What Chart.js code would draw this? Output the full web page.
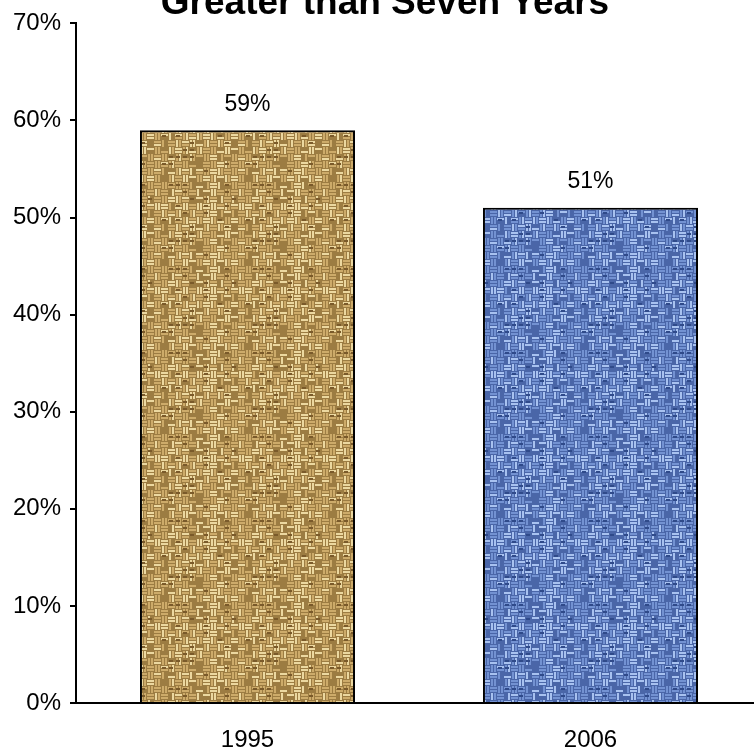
<!DOCTYPE html>
<html>
<head>
<meta charset="utf-8">
<script src="https://cdn.jsdelivr.net/npm/chart.js@4"></script>
<style>
  html, body { margin: 0; padding: 0; background: #fff; overflow: hidden; }
  canvas { display: block; }
</style>
</head>
<body>
<canvas id="tenure" width="762" height="749"></canvas>
<script>
const categories = ['1995', '2006'];
const shares = [59, 51];
const yMax = 70;
const yStep = 10;
const chartTitle = 'Greater than Seven Years';

// woven fill, drawn cell by cell with a small fixed hash for the fibre shading
function hash(a, b) {
  let h = (a * 374761393 + b * 668265263) | 0;
  h = (h ^ (h >>> 13)) * 1274126177;
  return ((h ^ (h >>> 16)) >>> 0) / 4294967295;
}

function weave(base, light, dark, shade) {
  const size = 84, cell = 7;
  const c = document.createElement('canvas');
  c.width = size; c.height = size;
  const g = c.getContext('2d');
  g.fillStyle = shade;
  g.fillRect(0, 0, size, size);
  for (let i = 0; i < size / cell; i++) {
    for (let j = 0; j < size / cell; j++) {
      const x = i * cell, y = j * cell;
      const horiz = (i + j) % 2 === 0;
      for (let k = 0; k < 2; k++) {
        const t = hash(i * 7 + k, j * 13 + k);
        g.fillStyle = t > 0.6 ? light : (t < 0.15 ? shade : base);
        if (horiz) g.fillRect(x, y + k * 3 + 1, cell, 2);
        else g.fillRect(x + k * 3 + 1, y, 2, cell);
      }
      if (hash(j + 3, i + 5) > 0.75) {
        g.fillStyle = dark;
        g.fillRect(x + 1, y + 2, 4, 2);
      }
    }
  }
  const ctx = document.getElementById('tenure').getContext('2d');
  return ctx.createPattern(c, 'repeat');
}

const burlap = weave('#cdab6a', '#ecd8a0', '#7a5a2a', '#9c7c42');
const denim = weave('#7392d2', '#a8c2f0', '#2f4a8a', '#4a66a8');

const valueLabels = {
  id: 'valueLabels',
  afterDatasetsDraw(chart) {
    const ctx = chart.ctx;
    const meta = chart.getDatasetMeta(0);
    ctx.save();
    ctx.font = '23px "Liberation Sans", Arial, sans-serif';
    ctx.fillStyle = '#000';
    ctx.textAlign = 'center';
    ctx.textBaseline = 'middle';
    meta.data.forEach((bar, i) => {
      ctx.fillText(shares[i] + '%', bar.x, bar.y - 26);
    });
    ctx.restore();
  }
};

const topTitle = {
  id: 'topTitle',
  afterDraw(chart) {
    const ctx = chart.ctx;
    ctx.save();
    ctx.font = 'bold 37px "Liberation Sans", Arial, sans-serif';
    ctx.fillStyle = '#000';
    ctx.textAlign = 'center';
    ctx.textBaseline = 'alphabetic';
    ctx.fillText(chartTitle, 385, 14);
    ctx.restore();
  }
};

new Chart(document.getElementById('tenure'), {
  type: 'bar',
  data: {
    labels: categories,
    datasets: [{
      data: shares,
      backgroundColor: [burlap, denim],
      borderColor: '#000',
      borderWidth: 2,
      borderSkipped: 'bottom',
      barPercentage: 0.627,
      categoryPercentage: 1
    }]
  },
  options: {
    responsive: false,
    animation: false,
    layout: { padding: { top: 21, right: 0, left: 0, bottom: 0 } },
    plugins: {
      legend: { display: false },
      title: { display: false },
      tooltip: { enabled: false }
    },
    scales: {
      x: {
        grid: { display: false, drawTicks: false },
        border: { display: true, color: '#000', width: 2 },
        ticks: {
          color: '#000',
          padding: 23,
          font: { family: '"Liberation Sans", Arial, sans-serif', size: 24 }
        },
        afterFit(scale) { scale.height = 46; }
      },
      y: {
        min: 0,
        max: yMax,
        grid: { drawOnChartArea: false, drawTicks: true, tickLength: 6, color: '#000', lineWidth: 2 },
        border: { display: true, color: '#000', width: 2 },
        ticks: {
          stepSize: yStep,
          color: '#000',
          padding: 9,
          font: { family: '"Liberation Sans", Arial, sans-serif', size: 24 },
          callback: v => v + '%'
        },
        afterFit(scale) { scale.width = 76; }
      }
    }
  },
  plugins: [valueLabels, topTitle]
});
</script>
</body>
</html>
